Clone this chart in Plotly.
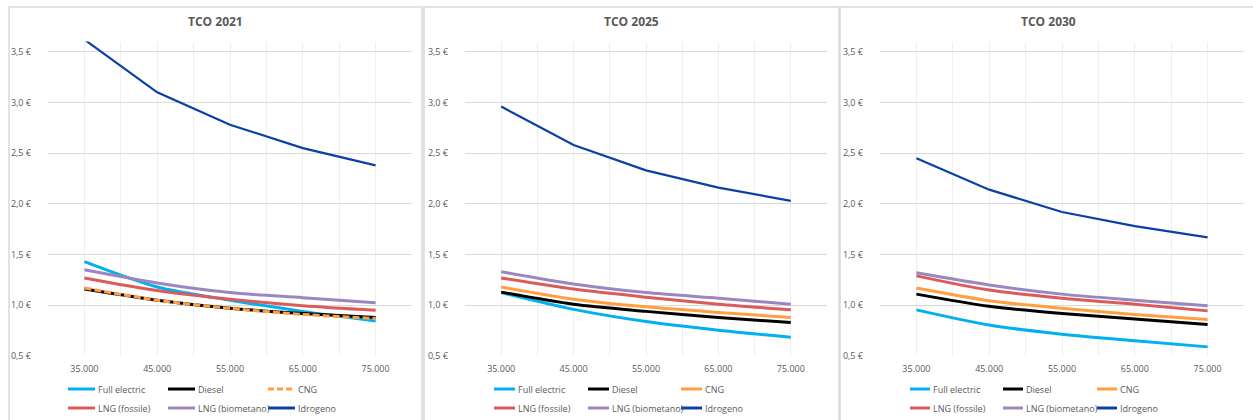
import plotly.graph_objects as go

W, H = 1253, 420

# ---- data ----
km = [35000, 45000, 55000, 65000, 75000]
km_labels = ["35.000", "45.000", "55.000", "65.000", "75.000"]
y_ticks = [0.5, 1.0, 1.5, 2.0, 2.5, 3.0, 3.5]
y_tick_labels = ["0,5 €", "1,0 €", "1,5 €", "2,0 €", "2,5 €", "3,0 €", "3,5 €"]
panel_titles = ["TCO 2021", "TCO 2025", "TCO 2030"]
series_names = ["Full electric", "Diesel", "CNG", "LNG (fossile)", "LNG (biometano)", "Idrogeno"]

tco_2021 = {
    "Full electric":   [1.43, 1.18, 1.05, 0.94, 0.845],
    "Diesel":          [1.16, 1.05, 0.97, 0.92, 0.88],
    "CNG":             [1.17, 1.05, 0.97, 0.91, 0.87],
    "LNG (fossile)":   [1.27, 1.145, 1.06, 0.995, 0.95],
    "LNG (biometano)": [1.35, 1.22, 1.125, 1.075, 1.025],
    "Idrogeno":        [3.62, 3.10, 2.78, 2.55, 2.38],
}
tco_2025 = {
    "Full electric":   [1.125, 0.96, 0.84, 0.755, 0.685],
    "Diesel":          [1.13, 1.01, 0.94, 0.88, 0.83],
    "CNG":             [1.18, 1.06, 0.985, 0.93, 0.88],
    "LNG (fossile)":   [1.27, 1.16, 1.08, 1.01, 0.955],
    "LNG (biometano)": [1.33, 1.21, 1.125, 1.07, 1.01],
    "Idrogeno":        [2.96, 2.58, 2.33, 2.16, 2.03],
}
tco_2030 = {
    "Full electric":   [0.955, 0.805, 0.715, 0.65, 0.59],
    "Diesel":          [1.11, 0.99, 0.92, 0.865, 0.81],
    "CNG":             [1.17, 1.045, 0.97, 0.91, 0.86],
    "LNG (fossile)":   [1.29, 1.15, 1.07, 1.01, 0.945],
    "LNG (biometano)": [1.32, 1.20, 1.11, 1.05, 0.995],
    "Idrogeno":        [2.45, 2.14, 1.92, 1.78, 1.67],
}
panels = [tco_2021, tco_2025, tco_2030]

# ---- styles ----
colors = {
    "Full electric": "#00B0F0",
    "Diesel": "#000000",
    "CNG": "#FF9F3F",
    "LNG (fossile)": "#DB5B5B",
    "LNG (biometano)": "#9B87BF",
    "Idrogeno": "#0B41A6",
}
FONT = "Open Sans"
GRAY = "#595959"

# pixel layout
plot_x = [(48, 412), (465, 827), (880, 1244)]
panel_box = [(9, 422), (424, 839), (840, 1260)]
y_bot, y_top = 356, 41.6
legend_cols = [[68, 168, 268], [494, 588, 681], [910, 1003, 1097]]
legend_len = [27, 21, 20]
legend_rows = [389, 408]


def px(x):
    return x / W


def py(y):
    return 1 - y / H


def line_style(p, name):
    dash = "7px,3px" if (p == 0 and name == "CNG") else "solid"
    width = 2.2 if name == "Idrogeno" else 3
    return dash, width


fig = go.Figure()

for p, data in enumerate(panels):
    sfx = "" if p == 0 else str(p + 1)
    for name in series_names:
        dash, width = line_style(p, name)
        shape = "linear" if name == "Idrogeno" else "spline"
        fig.add_trace(go.Scatter(
            x=km, y=data[name], name=name, mode="lines",
            line=dict(color=colors[name], width=width, dash=dash, shape=shape, smoothing=0.8),
            xaxis="x" + sfx, yaxis="y" + sfx, showlegend=False,
            hoverinfo="skip",
        ))

layout = dict(
    width=W, height=H,
    margin=dict(l=0, r=0, t=0, b=0),
    paper_bgcolor="white", plot_bgcolor="white",
    separators=",.",
    font=dict(family=FONT, size=9, color=GRAY),
    showlegend=False,
)

for p in range(3):
    sfx = "" if p == 0 else str(p + 1)
    x0, x1 = plot_x[p]
    layout["xaxis" + sfx] = dict(
        domain=[px(x0), px(x1)], range=[30000, 80000],
        tickmode="array", tickvals=km, ticktext=km_labels,
        showgrid=True, gridcolor="#EFEFEF", gridwidth=1,
        minor=dict(tick0=30000, dtick=5000, showgrid=True, gridcolor="#EFEFEF", gridwidth=1),
        showline=False, zeroline=False, ticks="", ticklabelstandoff=6,
        tickfont=dict(family=FONT, size=9, color=GRAY),
        anchor="y" + sfx, fixedrange=True, automargin=False,
    )
    layout["yaxis" + sfx] = dict(
        domain=[py(y_bot), py(y_top)], range=[0.5, 3.6],
        tickmode="array", tickvals=y_ticks, ticktext=y_tick_labels,
        showgrid=True, gridcolor="#D9D9D9", gridwidth=1,
        showline=False, zeroline=False, ticks="", ticklabelstandoff=16,
        tickfont=dict(family=FONT, size=9, color=GRAY),
        anchor="x" + sfx, fixedrange=True, automargin=False,
    )

shapes = []
annotations = []
for (bx0, bx1) in panel_box:
    shapes.append(dict(type="rect", xref="paper", yref="paper",
                       x0=px(bx0), x1=px(bx1), y0=-0.05, y1=py(7),
                       line=dict(color="#D9D9D9", width=1.5), layer="below"))

# legend (built from the series list), two rows of three entries per panel
for p in range(3):
    for i, name in enumerate(series_names):
        col, row = i % 3, i // 3
        lx0 = legend_cols[p][col]
        lx1 = lx0 + legend_len[p]
        ly = legend_rows[row]
        dash, width = line_style(p, name)
        if p == 0 and name == "CNG":
            dash = "6px,3px"
        shapes.append(dict(type="line", xref="paper", yref="paper",
                           x0=px(lx0), x1=px(lx1), y0=py(ly), y1=py(ly),
                           line=dict(color=colors[name], width=3, dash=dash)))
        annotations.append(dict(text=name, xref="paper", yref="paper",
                                x=px(lx1 + 1), y=py(ly), xanchor="left", yanchor="middle",
                                showarrow=False, font=dict(family=FONT, size=9, color=GRAY)))

for p, t in enumerate(panel_titles):
    bx0, bx1 = panel_box[p]
    cx = (bx0 + min(bx1, 1256)) / 2
    annotations.append(dict(text=f"<b>{t}</b>", xref="paper", yref="paper",
                            x=px(cx), y=py(21), xanchor="center", yanchor="middle",
                            showarrow=False, font=dict(family=FONT, size=12, color=GRAY)))

layout["shapes"] = shapes
layout["annotations"] = annotations

fig.update_layout(**layout)
fig.write_html("out.html",
               config={"displayModeBar": False, "staticPlot": True},
               post_script="document.body.style.margin='0px';document.body.style.padding='0px';"
                           "document.body.style.overflow='hidden';")
